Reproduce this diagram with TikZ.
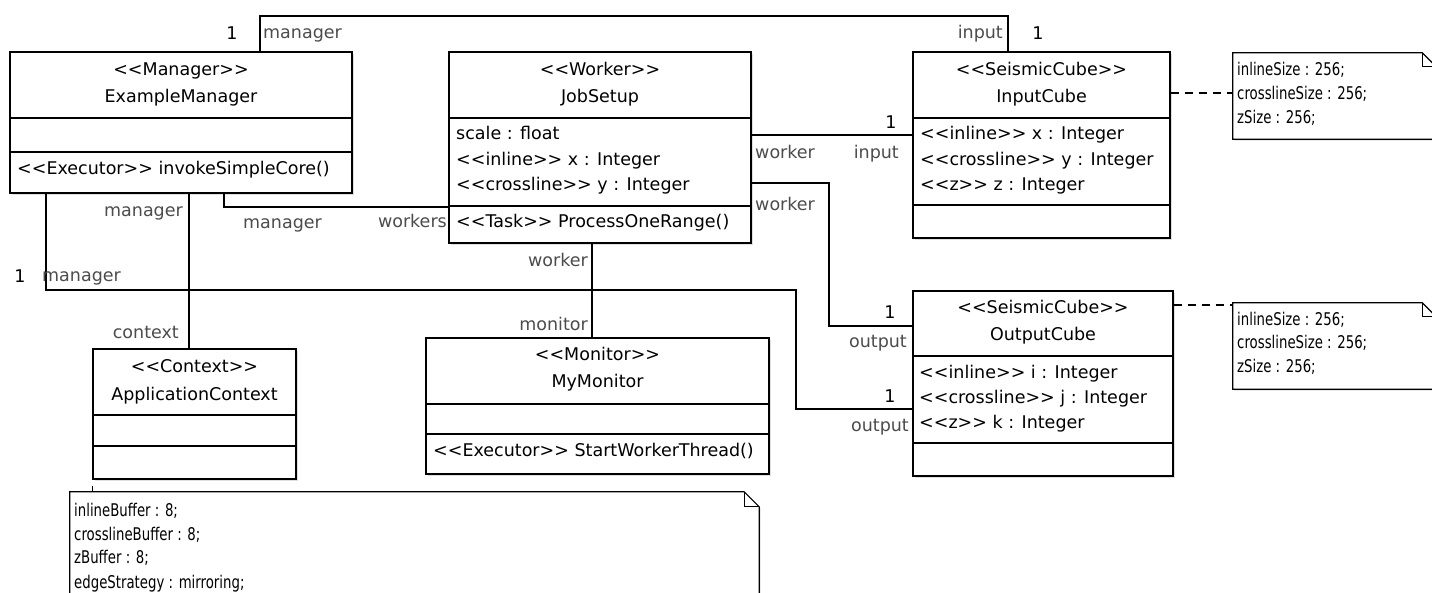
\documentclass[tikz,border=0pt]{standalone}
\usepackage{fontspec}
\setmainfont{DejaVu Sans}
\newfontfamily\notefont[FakeStretch=0.76]{DejaVu Sans}
\usetikzlibrary{shadows}
\newcommand\umlfont{\fontsize{17.5}{21}\selectfont}
\newcommand\notetext{\notefont\fontsize{17.5}{23.5}\selectfont}
% guillemet-free stereotype brackets (keeps << and >> as two glyphs each)
\newcommand\stereo[1]{<{}<#1>{}>}
\begin{document}
\begin{tikzpicture}[x=1pt,y=-1pt,
  classbox/.style={draw, line width=1.2pt, fill=white, rectangle, inner sep=0pt,
    drop shadow={shadow xshift=1.5pt, shadow yshift=-1.5pt, opacity=0.25}},
  divider/.style={line width=1.2pt},
  title/.style={font=\umlfont, inner sep=0pt, anchor=base},
  member/.style={font=\umlfont, inner sep=0pt, anchor=base west},
  role/.style={font=\umlfont, text=black!70, inner sep=0pt},
  mult/.style={font=\umlfont, inner sep=0pt, anchor=base},
  assoc/.style={line width=1.1pt},
  noteline/.style={line width=1.1pt, dash pattern=on 8pt off 6pt},
  noteframe/.style={draw, line width=1.2pt, fill=white,
    drop shadow={shadow xshift=1.5pt, shadow yshift=-1.5pt, opacity=0.25}},
  notearea/.style={rectangle, inner sep=0pt},
  notetxt/.style={font=\notetext, inner sep=0pt, anchor=base west}]

\path[use as bounding box, clip] (0,0) rectangle (1432,592);
\fill[white] (0,0) rectangle (1432,592);

% ---------- bend points of the associations ----------
\coordinate (topbend1) at (260,16);
\coordinate (topbend2) at (1008,16);
\coordinate (wkbend) at (224,207);
\coordinate (lowbend1) at (46,290);
\coordinate (lowbend2) at (796,290);
\coordinate (lowbend3) at (796,409);
\coordinate (outbend1) at (829,183);
\coordinate (outbend2) at (829,326);

% ---------- classes ----------
\node[classbox, minimum width=342pt, minimum height=141pt] (em) at (181,122.5) {};
\node[classbox, minimum width=302pt, minimum height=191pt] (js) at (600,147.5) {};
\node[classbox, minimum width=257pt, minimum height=186pt] (ic) at (1041.5,145) {};
\node[classbox, minimum width=260pt, minimum height=185pt] (oc) at (1043,383.5) {};
\node[classbox, minimum width=203pt, minimum height=130pt] (ac) at (194.5,414) {};
\node[classbox, minimum width=343pt, minimum height=136pt] (mm) at (597.5,406) {};

% ---------- associations ----------
\draw[assoc] (em.north -| topbend1) -- (topbend1) -- (topbend2) -- (ic.north -| topbend2);
\draw[assoc] (em.south -| wkbend) -- (wkbend) -- (js.west |- wkbend);
\draw[assoc] (em.south -| lowbend1) -- (lowbend1) -- (lowbend2) -- (lowbend3) -- (oc.west |- lowbend3);
\draw[assoc] (em.south -| 189,0) -- (ac.north -| 189,0);
\draw[assoc] (js.east |- 0,135) -- (ic.west |- 0,135);
\draw[assoc] (js.east |- outbend1) -- (outbend1) -- (outbend2) -- (oc.west |- outbend2);
\draw[assoc] (js.south -| 592,0) -- (mm.north -| 592,0);

% ExampleManager
\draw[divider] (em.west |- 0,118) -- (em.east |- 0,118);
\draw[divider] (em.west |- 0,152) -- (em.east |- 0,152);
\node[title] (emst) at (181,75) {\stereo{Manager}};
\node[title] (emname) at (181,102) {ExampleManager};
\node[member] (emop) at (17,174) {\stereo{Executor} invokeSimpleCore()};

% JobSetup
\draw[divider] (js.west |- 0,118) -- (js.east |- 0,118);
\draw[divider] (js.west |- 0,206) -- (js.east |- 0,206);
\node[title] (jsst) at (600,75) {\stereo{Worker}};
\node[title] (jsname) at (600,102) {JobSetup};
\node[member] (jsa1) at (456,139) {scale : float};
\node[member] (jsa2) at (456,165) {\stereo{inline} x : Integer};
\node[member] (jsa3) at (456,190) {\stereo{crossline} y : Integer};
\node[member] (jsop) at (456,227) {\stereo{Task} ProcessOneRange()};

% InputCube
\draw[divider] (ic.west |- 0,118) -- (ic.east |- 0,118);
\draw[divider] (ic.west |- 0,205) -- (ic.east |- 0,205);
\node[title] (icst) at (1041.5,75) {\stereo{SeismicCube}};
\node[title] (icname) at (1041.5,102) {InputCube};
\node[member] (ica1) at (920,139) {\stereo{inline} x : Integer};
\node[member] (ica2) at (920,165) {\stereo{crossline} y : Integer};
\node[member] (ica3) at (920,190) {\stereo{z} z : Integer};

% OutputCube
\draw[divider] (oc.west |- 0,356) -- (oc.east |- 0,356);
\draw[divider] (oc.west |- 0,443) -- (oc.east |- 0,443);
\node[title] (ocst) at (1043,313) {\stereo{SeismicCube}};
\node[title] (ocname) at (1043,340) {OutputCube};
\node[member] (oca1) at (919,378) {\stereo{inline} i : Integer};
\node[member] (oca2) at (919,403) {\stereo{crossline} j : Integer};
\node[member] (oca3) at (919,428) {\stereo{z} k : Integer};

% ApplicationContext
\draw[divider] (ac.west |- 0,415) -- (ac.east |- 0,415);
\draw[divider] (ac.west |- 0,446) -- (ac.east |- 0,446);
\node[title] (acst) at (194.5,372) {\stereo{Context}};
\node[title] (acname) at (194.5,400) {ApplicationContext};

% MyMonitor
\draw[divider] (mm.west |- 0,404) -- (mm.east |- 0,404);
\draw[divider] (mm.west |- 0,434) -- (mm.east |- 0,434);
\node[title] (mmst) at (597.5,360) {\stereo{Monitor}};
\node[title] (mmname) at (597.5,387) {MyMonitor};
\node[member] (mmop) at (433,456) {\stereo{Executor} StartWorkerThread()};

% ---------- role names and multiplicities ----------
\node[mult] (m1) at (232,39) {1};
\node[role, anchor=base west] (r1) at (263,38) {manager};
\node[role, anchor=base east] (r2) at (1003,38) {input};
\node[mult] (m2) at (1038,39) {1};
\node[role, anchor=base east] (r3) at (183,216) {manager};
\node[role, anchor=base west] (r4) at (243,228) {manager};
\node[role, anchor=base east] (r5) at (447,227) {workers};
\node[mult] (m3) at (20,282) {1};
\node[role, anchor=base west] (r6) at (42,281) {manager};
\node[role, anchor=base east] (r7) at (179,338) {context};
\node[role, anchor=base west] (r8) at (755,158) {worker};
\node[mult] (m4) at (891,128) {1};
\node[role, anchor=base east] (r9) at (899,158) {input};
\node[role, anchor=base west] (r10) at (755,210) {worker};
\node[mult] (m5) at (890,318) {1};
\node[role, anchor=base east] (r11) at (907,347) {output};
\node[mult] (m6) at (890,402) {1};
\node[role, anchor=base east] (r12) at (909,431) {output};
\node[role, anchor=base east] (r13) at (588,266) {worker};
\node[role, anchor=base east] (r14) at (588,330) {monitor};

% ---------- notes ----------
\node[notearea, minimum width=203pt, minimum height=86pt] (n2) at (1334.5,96) {};
\node[notearea, minimum width=203pt, minimum height=86pt] (n3) at (1334.5,346) {};
\node[notearea, minimum width=689pt, minimum height=148pt] (n1) at (414.5,566) {};

\draw[noteline] (ic.east |- 0,93) -- (n2.west |- 0,93);
\draw[noteline] (oc.east |- 0,305) -- (n3.west |- 0,305);
\draw[line width=1.1pt, dash pattern=on 0pt off 6pt on 7pt off 6pt] (ac.south west) -- (n1.north -| ac.south west);

\foreach \n/\f in {n1/15, n2/14, n3/14} {
  \path[noteframe] (\n.north west) -- ([xshift=-\f pt]\n.north east)
    -- ([yshift=-\f pt]\n.north east) -- (\n.south east) -- (\n.south west) -- cycle;
  \draw[line width=1.1pt] ([xshift=-\f pt]\n.north east) -- ([xshift=-\f pt, yshift=-\f pt]\n.north east)
    -- ([yshift=-\f pt]\n.north east);
}

\node[notetxt] (n2a) at (1237,75) {inlineSize : 256;};
\node[notetxt] (n2b) at (1237,99) {crosslineSize : 256;};
\node[notetxt] (n2c) at (1237,123) {zSize : 256;};

\node[notetxt] (n3a) at (1237,325) {inlineSize : 256;};
\node[notetxt] (n3b) at (1237,348) {crosslineSize : 256;};
\node[notetxt] (n3c) at (1237,372) {zSize : 256;};

\node[notetxt] (n1a) at (74,516) {inlineBuffer : 8;};
\node[notetxt] (n1b) at (74,540) {crosslineBuffer : 8;};
\node[notetxt] (n1c) at (74,563) {zBuffer : 8;};
\node[notetxt] (n1d) at (74,588) {edgeStrategy : mirroring;};
\end{tikzpicture}
\end{document}
